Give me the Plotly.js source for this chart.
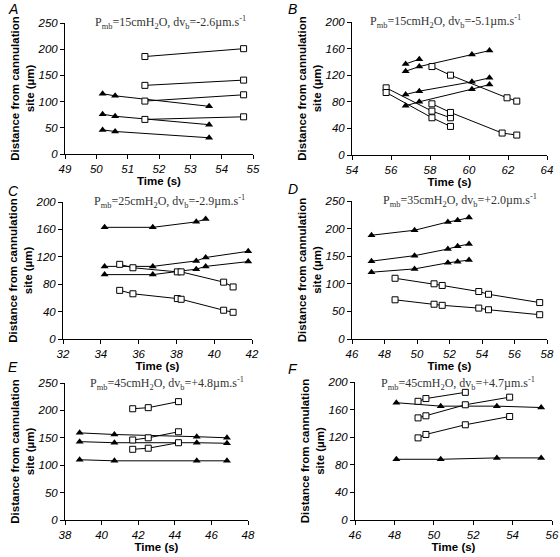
<!DOCTYPE html>
<html>
<head>
<meta charset="utf-8">
<script src="https://cdn.plot.ly/plotly-3.0.1.min.js"></script>
<style>html,body{margin:0;padding:0;background:#fff;}#chart{width:560px;height:557px;}</style>
</head>
<body>
<div id="chart"></div>
<script>
// ---------- DATA ----------
const panelLetters = ['A', 'B', 'C', 'D', 'E', 'F'];
const conditionLabels = [
  'P<sub>mb</sub>=15cmH<sub>2</sub>O, dv<sub>b</sub>=-2.6µm.s<sup>-1</sup>',
  'P<sub>mb</sub>=15cmH<sub>2</sub>O, dv<sub>b</sub>=-5.1µm.s<sup>-1</sup>',
  'P<sub>mb</sub>=25cmH<sub>2</sub>O, dv<sub>b</sub>=-2.9µm.s<sup>-1</sup>',
  'P<sub>mb</sub>=35cmH<sub>2</sub>O, dv<sub>b</sub>=+2.0µm.s<sup>-1</sup>',
  'P<sub>mb</sub>=45cmH<sub>2</sub>O, dv<sub>b</sub>=+4.8µm.s<sup>-1</sup>',
  'P<sub>mb</sub>=45cmH<sub>2</sub>O, dv<sub>b</sub>=+4.7µm.s<sup>-1</sup>'
];
const xRanges = [[49, 55], [54, 64], [32, 42], [46, 58], [38, 48], [46, 56]];
const yRanges = [[0, 250], [0, 200], [0, 200], [0, 250], [0, 250], [0, 200]];
const xTickSteps = [1, 2, 2, 2, 2, 2];
const yTickSteps = [50, 40, 40, 50, 50, 40];
const xTitle = 'Time (s)';
const yTitle = 'Distance from cannulation<br>site (µm)';

// Panel A
const A_triTime = [50.2, 50.6, 53.6];
const A_tri1 = [115, 111, 91];
const A_tri2 = [76, 72, 56];
const A_tri3 = [46, 43, 31];
const A_sqTime = [51.55, 54.7];
const A_sq1 = [186, 201];
const A_sq2 = [131, 141];
const A_sq3 = [101, 113];
const A_sq4 = [66, 71];

// Panel B
const B_tri1Time = [56.75, 57.45];
const B_tri1 = [137, 144];
const B_triTime = [56.75, 57.45, 60.15, 61.05];
const B_tri2 = [126, 133, 151, 157];
const B_tri3 = [91, 96, 110, 116];
const B_tri4 = [74, 80, 99, 106];
const B_sq1Time = [58.1, 59.05, 61.95, 62.45];
const B_sq1 = [133, 120, 86, 81];
const B_sqShortTime = [55.75, 58.1, 59.05];
const B_sq2 = [101, 66, 56];
const B_sq3 = [94, 56, 43];
const B_sq4Time = [58.1, 59.05, 61.7, 62.45];
const B_sq4 = [77, 64, 33, 30];

// Panel C
const C_triTime = [34.2, 36.75, 39.05, 39.55, 41.8];
const C_tri1 = [163, 163, 171, 175];
const C_tri2 = [106, 106, 114, 119, 128];
const C_tri3 = [94, 94, 102, 106, 113];
const C_sqTime = [35.0, 35.7, 38.05, 38.25, 40.5, 41.0];
const C_sq1 = [109, 104, 98, 98, 83, 76];
const C_sq2 = [71, 66, 59, 58, 42, 39];

// Panel D
const D_triTime = [47.2, 49.85, 51.9, 52.5, 53.2];
const D_tri1 = [188, 197, 212, 215, 220];
const D_tri2 = [141, 151, 163, 168, 172];
const D_tri3 = [121, 127, 138, 140, 143];
const D_sqTime = [48.65, 51.05, 51.55, 53.8, 54.4, 57.55];
const D_sq1 = [110, 100, 97, 86, 81, 66];
const D_sq2 = [71, 63, 61, 56, 53, 44];

// Panel E
const E_triTime = [38.8, 40.7, 45.2, 46.85];
const E_tri1 = [159, 156, 152, 150];
const E_tri2 = [143, 141, 141, 140];
const E_tri3 = [110, 108, 108, 108];
const E_sqTime = [41.7, 42.55, 44.2];
const E_sq1 = [203, 205, 216];
const E_sq2 = [146, 150, 161];
const E_sq3 = [129, 131, 141];

// Panel F
const F_triTime = [48.1, 50.35, 53.2, 55.45];
const F_tri1 = [170, 165, 165, 163];
const F_tri2 = [88, 88, 90, 90];
const F_sq1Time = [49.2, 49.6, 51.6];
const F_sq1 = [172, 176, 185];
const F_sqTime = [49.2, 49.6, 51.6, 53.85];
const F_sq2 = [148, 151, 167, 178];
const F_sq3 = [119, 124, 138, 150];

// ---------- SERIES -> TRACES ----------
const series = [
  // [panelIndex, kind, x, y]
  [0, 'tri', A_triTime, A_tri1], [0, 'tri', A_triTime, A_tri2], [0, 'tri', A_triTime, A_tri3],
  [0, 'sq', A_sqTime, A_sq1], [0, 'sq', A_sqTime, A_sq2], [0, 'sq', A_sqTime, A_sq3], [0, 'sq', A_sqTime, A_sq4],
  [1, 'tri', B_tri1Time, B_tri1], [1, 'tri', B_triTime, B_tri2], [1, 'tri', B_triTime, B_tri3], [1, 'tri', B_triTime, B_tri4],
  [1, 'sq', B_sq1Time, B_sq1], [1, 'sq', B_sqShortTime, B_sq2], [1, 'sq', B_sqShortTime, B_sq3], [1, 'sq', B_sq4Time, B_sq4],
  [2, 'tri', C_triTime, C_tri1], [2, 'tri', C_triTime, C_tri2], [2, 'tri', C_triTime, C_tri3],
  [2, 'sq', C_sqTime, C_sq1], [2, 'sq', C_sqTime, C_sq2],
  [3, 'tri', D_triTime, D_tri1], [3, 'tri', D_triTime, D_tri2], [3, 'tri', D_triTime, D_tri3],
  [3, 'sq', D_sqTime, D_sq1], [3, 'sq', D_sqTime, D_sq2],
  [4, 'tri', E_triTime, E_tri1], [4, 'tri', E_triTime, E_tri2], [4, 'tri', E_triTime, E_tri3],
  [4, 'sq', E_sqTime, E_sq1], [4, 'sq', E_sqTime, E_sq2], [4, 'sq', E_sqTime, E_sq3],
  [5, 'tri', F_triTime, F_tri1], [5, 'tri', F_triTime, F_tri2],
  [5, 'sq', F_sq1Time, F_sq1], [5, 'sq', F_sqTime, F_sq2], [5, 'sq', F_sqTime, F_sq3]
];

const traces = series.map(([p, kind, x, y]) => ({
  type: 'scatter',
  mode: 'lines+markers',
  x: x.slice(0, y.length),
  y: y,
  xaxis: 'x' + (p + 1),
  yaxis: 'y' + (p + 1),
  line: { color: '#000', width: 1 },
  marker: kind === 'tri'
    ? { symbol: 'triangle-up', size: 7, color: '#000', line: { color: '#000', width: 0 } }
    : { symbol: 'square', size: 6, color: '#fff', line: { color: '#000', width: 1 } },
  cliponaxis: false,
  hoverinfo: 'x+y'
}));

// ---------- LAYOUT ----------
const W = 560, H = 557;
// plot-area pixel boxes [left, right, top, bottom]
const boxes = [
  [65, 253, 23, 154],
  [352, 547, 22, 155],
  [63, 252, 202, 339],
  [352, 547, 201, 339],
  [65, 248, 383, 520],
  [355, 552, 382, 520]
];
const letterPos = [[6, 9], [286, 9], [6, 191], [286, 189], [6, 367], [286, 369]];
const labelPos = [[170, 23], [445, 22], [169, 202], [460, 200], [167, 383], [458, 383]];

const layout = {
  width: W, height: H,
  margin: { l: 0, r: 0, t: 0, b: 0 },
  paper_bgcolor: '#fff', plot_bgcolor: '#fff',
  showlegend: false,
  font: { family: 'Liberation Sans, Arial, sans-serif', color: '#000', size: 11 },
  annotations: []
};

boxes.forEach((b, i) => {
  const n = i + 1;
  layout['xaxis' + n] = {
    domain: [b[0] / W, b[1] / W], anchor: 'y' + n,
    range: xRanges[i], dtick: xTickSteps[i], tick0: 0,
    showline: true, linecolor: '#000', linewidth: 1,
    ticks: 'outside', ticklen: 4, tickcolor: '#000', tickwidth: 1,
    showgrid: false, zeroline: false,
    tickfont: { size: 11.5, style: 'italic', family: 'Liberation Sans, Arial, sans-serif' },
    title: { text: xTitle, font: { size: 11.5, weight: 'bold' }, standoff: 3 }
  };
  layout['yaxis' + n] = {
    domain: [1 - b[3] / H, 1 - b[2] / H], anchor: 'x' + n,
    range: yRanges[i], dtick: yTickSteps[i], tick0: 0,
    showline: true, linecolor: '#000', linewidth: 1,
    ticks: 'outside', ticklen: 4, tickcolor: '#000', tickwidth: 1,
    showgrid: false, zeroline: false,
    tickfont: { size: 11.5, style: 'italic', family: 'Liberation Sans, Arial, sans-serif' },
    title: { text: yTitle, font: { size: 11.5, weight: 'bold' }, standoff: 0 }
  };
  layout.annotations.push({
    text: panelLetters[i], xref: 'paper', yref: 'paper',
    x: letterPos[i][0] / W, y: 1 - letterPos[i][1] / H,
    xanchor: 'left', yanchor: 'middle', showarrow: false,
    font: { size: 14, style: 'italic', family: 'Liberation Sans, Arial, sans-serif' }
  });
  layout.annotations.push({
    text: conditionLabels[i], xref: 'paper', yref: 'paper',
    x: labelPos[i][0] / W, y: 1 - labelPos[i][1] / H,
    xanchor: 'center', yanchor: 'middle', showarrow: false,
    font: { size: 12, family: 'Liberation Serif, Times New Roman, serif', color: '#333' }
  });
});

Plotly.newPlot('chart', traces, layout, { staticPlot: true, displayModeBar: false });
</script>
</body>
</html>
